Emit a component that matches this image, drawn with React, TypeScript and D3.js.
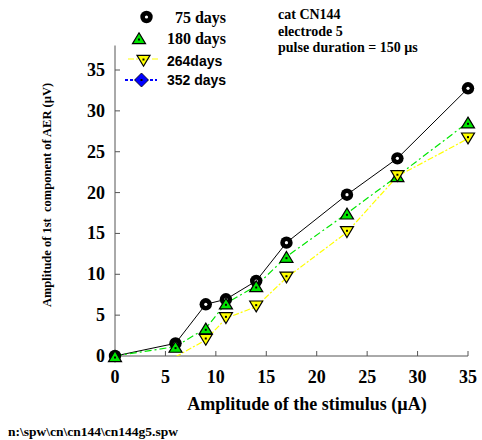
import React from "react";
import * as d3 from "d3";

const stimulus = [0, 6, 9, 11, 14, 17, 23, 28, 35];
const days75 = [0, 1.55, 6.33, 6.94, 9.18, 13.87, 19.74, 24.19, 32.76];
const days180 = [0, 1.15, 3.39, 6.45, 8.57, 12.16, 17.46, 22.03, 28.6];
const stimulus264 = [6, 9, 11, 14, 17, 23, 28, 35];
const days264 = [-0.1, 1.96, 4.61, 6.04, 9.58, 15.14, 22.0, 26.6];
const xTicks = [0, 5, 10, 15, 20, 25, 30, 35];
const yTicks = [0, 5, 10, 15, 20, 25, 30, 35];
const legendLabels = ["75 days", "180 days", "264days", "352 days"];
const noteLines = ["cat CN144", "electrode 5", "pulse duration = 150 µs"];

const W = 482;
const H = 440;
const serif = "'Liberation Serif', 'Times New Roman', serif";
const sans = "'Liberation Sans', Arial, sans-serif";

export default function App() {
  const x = d3.scaleLinear().domain([0, 35]).range([115, 468]);
  const y = d3.scaleLinear().domain([0, 38]).range([356, 45.5]);

  const s75 = stimulus.map((s, i) => [s, days75[i]] as [number, number]);
  const s180 = stimulus.map((s, i) => [s, days180[i]] as [number, number]);
  const s264 = stimulus264.map((s, i) => [s, days264[i]] as [number, number]);

  const line = d3
    .line<[number, number]>()
    .x((d) => x(d[0]))
    .y((d) => y(d[1]));

  const upTri = (cx: number, cy: number, r: number) =>
    `M${cx},${cy - r} L${cx + r * 1.05},${cy + r * 0.75} L${cx - r * 1.05},${cy + r * 0.75} Z`;
  const downTri = (cx: number, cy: number, r: number) =>
    `M${cx},${cy + r} L${cx + r * 1.05},${cy - r * 0.75} L${cx - r * 1.05},${cy - r * 0.75} Z`;
  const diamond = (cx: number, cy: number, r: number) =>
    `M${cx},${cy - r} L${cx + r},${cy} L${cx},${cy + r} L${cx - r},${cy} Z`;

  const Circle = ({ cx, cy }: { cx: number; cy: number }) => (
    <g>
      <circle cx={cx} cy={cy} r={6.2} fill="#000" />
      <circle cx={cx} cy={cy} r={1.6} fill="#fff" />
    </g>
  );
  const Up = ({ cx, cy }: { cx: number; cy: number }) => (
    <g>
      <path d={upTri(cx, cy + 1, 6.2)} fill="#00e600" stroke="#000" strokeWidth={1.2} />
      <rect x={cx - 1} y={cy + 0.5} width={2} height={2} fill="#000" />
    </g>
  );
  const Down = ({ cx, cy }: { cx: number; cy: number }) => (
    <g>
      <path d={downTri(cx, cy - 1, 6.2)} fill="#ffff00" stroke="#000" strokeWidth={1.2} />
      <rect x={cx - 1} y={cy - 2.5} width={2} height={2} fill="#000" />
    </g>
  );

  const legendY = [17, 38, 61, 80];

  return (
    <svg
      width={W}
      height={H}
      style={{ position: "absolute", left: 0, top: 0, background: "#fff" }}
    >
      <rect x={0} y={0} width={W} height={H} fill="#fff" />
      <defs>
        <clipPath id="plotClip">
          <rect x={x(0)} y={y(38) - 10} width={x(35) - x(0) + 10} height={y(0) - y(38) + 10} />
        </clipPath>
      </defs>

      {/* axes */}
      <line x1={x(0)} x2={x(0)} y1={y(38)} y2={y(0)} stroke="#555" strokeWidth={1} />
      <line x1={x(0)} x2={x(35)} y1={y(0)} y2={y(0)} stroke="#555" strokeWidth={1} />
      {yTicks.map((t) => (
        <g key={"yt" + t}>
          <line x1={x(0)} x2={x(0) + 5} y1={y(t)} y2={y(t)} stroke="#555" />
          <text
            x={105}
            y={y(t) + 6}
            textAnchor="end"
            fontFamily={serif}
            fontWeight="bold"
            fontSize={18}
          >
            {t}
          </text>
        </g>
      ))}
      {xTicks.map((t) => (
        <g key={"xt" + t}>
          <line x1={x(t)} x2={x(t)} y1={y(0)} y2={y(0) - 5} stroke="#555" />
          <text
            x={x(t)}
            y={383}
            textAnchor="middle"
            fontFamily={serif}
            fontWeight="bold"
            fontSize={18}
          >
            {t}
          </text>
        </g>
      ))}

      {/* series lines */}
      <g clipPath="url(#plotClip)">
        <path d={line(s75) || ""} fill="none" stroke="#000" strokeWidth={1} />
        <path
          d={line(s180) || ""}
          fill="none"
          stroke="#00e600"
          strokeWidth={1.2}
          strokeDasharray="7 3 2 3"
        />
        <path
          d={line(s264) || ""}
          fill="none"
          stroke="#ffff00"
          strokeWidth={1.2}
          strokeDasharray="6 2 2 2"
        />
      </g>

      {/* markers */}
      {s75.map((d, i) => (
        <Circle key={"c" + i} cx={x(d[0])} cy={y(d[1])} />
      ))}
      {s180.map((d, i) => (
        <Up key={"u" + i} cx={x(d[0])} cy={y(d[1])} />
      ))}
      {s264
        .filter((d) => d[1] >= 0)
        .map((d, i) => (
          <Down key={"d" + i} cx={x(d[0])} cy={y(d[1])} />
        ))}

      {/* legend */}
      <Circle cx={146.5} cy={legendY[0]} />
      <text x={226} y={legendY[0] + 6} textAnchor="end" fontFamily={serif} fontWeight="bold" fontSize={16}>
        {legendLabels[0]}
      </text>
      <Up cx={139} cy={legendY[1]} />
      <text x={226} y={legendY[1] + 6} textAnchor="end" fontFamily={serif} fontWeight="bold" fontSize={16}>
        {legendLabels[1]}
      </text>
      <line x1={128} x2={159} y1={legendY[2] - 2} y2={legendY[2] - 2} stroke="#ffff00" strokeWidth={1.2} strokeDasharray="6 2 2 2" />
      <Down cx={143.5} cy={legendY[2]} />
      <text x={167} y={legendY[2] + 5} fontFamily={sans} fontWeight="bold" fontSize={14}>
        {legendLabels[2]}
      </text>
      <line x1={125} x2={157} y1={legendY[3]} y2={legendY[3]} stroke="#0000ff" strokeWidth={2} strokeDasharray="3 2" />
      <path d={diamond(141.5, legendY[3], 7)} fill="#0000ff" stroke="#000" strokeWidth={0.8} />
      <rect x={140.5} y={legendY[3] - 1} width={2} height={2} fill="#000" />
      <text x={167} y={legendY[3] + 5} fontFamily={sans} fontWeight="bold" fontSize={14}>
        {legendLabels[3]}
      </text>

      {/* annotation */}
      {noteLines.map((t, i) => (
        <text
          key={"n" + i}
          x={278}
          y={19 + i * 16.5}
          fontFamily={serif}
          fontWeight="bold"
          fontSize={14}
        >
          {t}
        </text>
      ))}

      {/* axis titles */}
      <text
        x={307}
        y={410}
        textAnchor="middle"
        fontFamily={serif}
        fontWeight="bold"
        fontSize={18}
      >
        Amplitude of the stimulus (µA)
      </text>
      <text
        transform={`translate(51, 195) rotate(-90)`}
        textAnchor="middle"
        fontFamily={serif}
        fontWeight="bold"
        fontSize={12.5}
        style={{ whiteSpace: "pre" }}
      >
        {"Amplitude of 1st  component of AER (µV)"}
      </text>
      <text x={8} y={436} fontFamily={serif} fontWeight="bold" fontSize={13.5}>
        {"n:\\spw\\cn\\cn144\\cn144g5.spw"}
      </text>
    </svg>
  );
}
